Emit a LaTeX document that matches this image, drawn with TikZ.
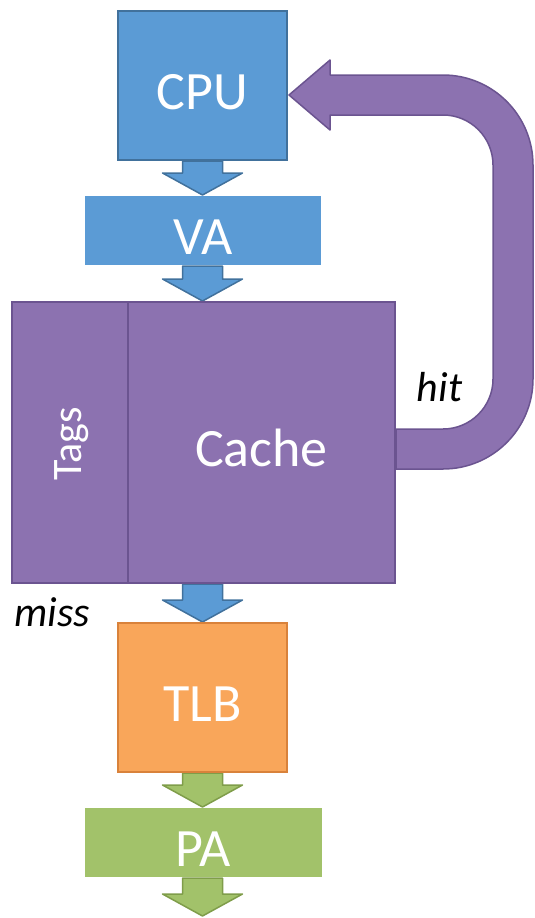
\documentclass[tikz,border=0pt]{standalone}
\usepackage{fontspec}
\setmainfont{Carlito}
\usetikzlibrary{calc}
\definecolor{bfill}{HTML}{5B9BD5}
\definecolor{bdraw}{HTML}{41719C}
\definecolor{pfill}{HTML}{8C72B0}
\definecolor{pdraw}{HTML}{6B5490}
\definecolor{ofill}{HTML}{F9A65A}
\definecolor{odraw}{HTML}{D9823B}
\definecolor{gfill}{HTML}{A2C26A}
\definecolor{gdraw}{HTML}{7F9D4A}
% block arrow pointing down from #2 to #3, style #1
\newcommand\blockdown[3]{%
  \path[#1] let \p1=(#2), \p2=(#3) in
    (\x1-20pt,\y1) -- (\x1-20pt,\y2+22pt) -- (\x1-40pt,\y2+22pt) -- (\x1,\y2)
    -- (\x1+40pt,\y2+22pt) -- (\x1+20pt,\y2+22pt) -- (\x1+20pt,\y1) -- cycle;}
\begin{document}
\begin{tikzpicture}[x=1pt,y=-1pt,
  box/.style={rectangle, inner sep=0pt, text=white,
    font=\fontsize{54}{60}\selectfont, text height=47pt, text depth=0pt, line width=2pt},
  bluebox/.style={box, fill=bfill, draw=bdraw},
  bluebar/.style={box, fill=bfill},
  purplebox/.style={box, fill=pfill, draw=pdraw},
  orangebox/.style={box, fill=ofill, draw=odraw},
  greenbar/.style={box, fill=gfill},
  lbl/.style={font=\fontsize{42}{48}\selectfont\itshape, text=black, inner sep=0pt},
  bluearrow/.style={fill=bfill, draw=bdraw, line width=1.5pt, line join=round},
  greenarrow/.style={fill=gfill, draw=gdraw, line width=1.5pt, line join=round},
  hitarrow/.style={fill=pfill, draw=pdraw, line width=1.5pt, line join=round}]
\useasboundingbox (0,0) rectangle (535,918);

% node placement (boxes drawn later on top of arrows)
\path
  node[bluebox, minimum width=169pt, minimum height=149pt] (cpu) at (202.5,85.5) {}
  node[bluebar, minimum width=236pt, minimum height=69pt] (va) at (203,230.5) {}
  node[purplebox, minimum width=116pt, minimum height=281pt] (tags) at (70,442.5) {}
  node[purplebox, minimum width=267pt, minimum height=281pt] (cachemain) at (261.5,442.5) {}
  node[orangebox, minimum width=169pt, minimum height=149pt] (tlb) at (202.5,697.5) {}
  node[greenbar, minimum width=237pt, minimum height=69pt] (pa) at (203.5,842.5) {};
\coordinate (out) at (202.5,916);

% down arrows
\blockdown{bluearrow}{cpu.south}{va.north -| cpu.south}
\blockdown{bluearrow}{va.south -| cpu.south}{cachemain.north -| cpu.south}
\blockdown{bluearrow}{cachemain.south -| tlb.north}{tlb.north}
\blockdown{greenarrow}{tlb.south}{pa.north -| tlb.south}
\blockdown{greenarrow}{pa.south -| tlb.south}{out}

% hit U-turn arrow
\path[hitarrow]
  ($(cachemain.east)+(0,-13.5)$) -- (443,429) arc[start angle=90,end angle=0,radius=50]
  -- (493,165) arc[start angle=0,end angle=-90,radius=50]
  -- (330,115) -- (330,130) -- ($(cpu.east)+(1,9.5)$) -- (330,60) -- (330,75)
  -- (443,75) arc[start angle=-90,end angle=0,radius=90]
  -- (533,379) arc[start angle=0,end angle=90,radius=90]
  -- ($(cachemain.east)+(0,26.5)$) -- cycle;

% boxes
\node[bluebox, minimum width=169pt, minimum height=149pt] at (cpu) {CPU};
\node[bluebar, minimum width=236pt, minimum height=69pt] at (va) {VA};
\node[purplebox, minimum width=116pt, minimum height=281pt] at (tags) {};
\node[purplebox, minimum width=267pt, minimum height=281pt] at (cachemain) {Cache};
\node[orangebox, minimum width=169pt, minimum height=149pt] at (tlb) {TLB};
\node[greenbar, minimum width=237pt, minimum height=69pt] at (pa) {PA};

\node[text=white, font=\fontsize{42}{48}\selectfont, rotate=90, inner sep=0pt] (tagslbl) at (72,444) {Tags};
\node[lbl] (hit) at (439.5,387) {hit};
\node[lbl] (miss) at (52,612) {miss};
\end{tikzpicture}
\end{document}
